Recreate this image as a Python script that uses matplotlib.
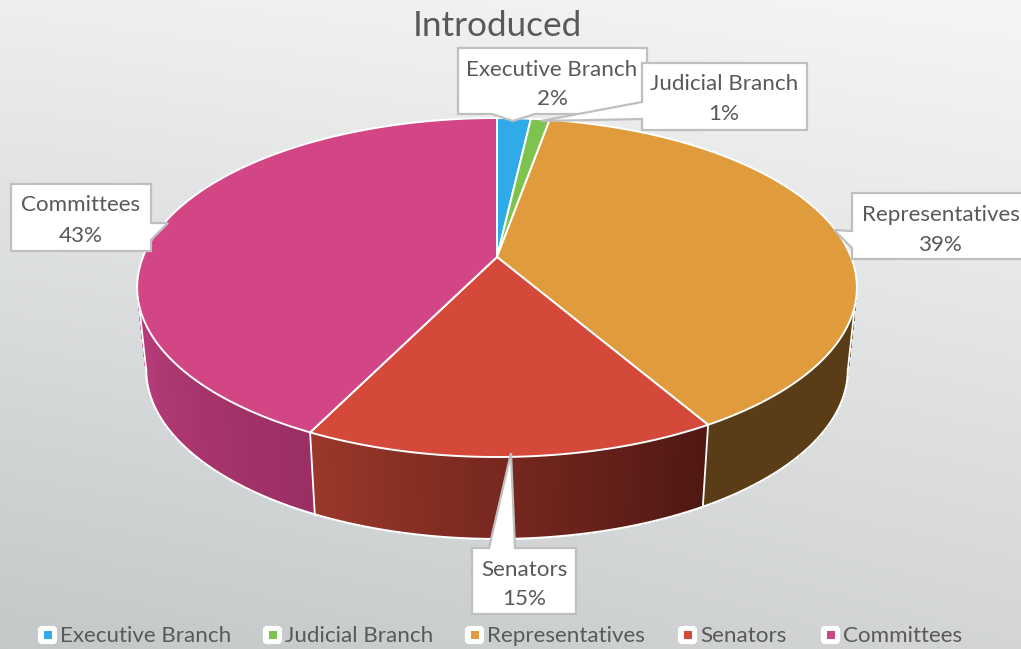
"""Perspective 3D pie, "Introduced". Drawn in pixel coordinates of the 1021x649 slide."""
import numpy as np
import matplotlib
matplotlib.use("Agg")
import matplotlib.pyplot as plt
from matplotlib.collections import PolyCollection
from matplotlib.colors import to_rgb
from matplotlib.patches import Polygon, Rectangle, FancyBboxPatch

plt.rcParams["font.family"] = ["Lato", "DejaVu Sans"]

categories = ["Executive Branch", "Judicial Branch", "Representatives", "Senators", "Committees"]
values = [1.8, 1.0, 38.8, 15.7, 42.7]
pct_labels = ["2%", "1%", "39%", "15%", "43%"]

TOP_COLORS = ["#2FABE9", "#7FC34F", "#E09B3D", "#D5493B", "#D24685"]
# wall colours: (left end, right end) of each slice as seen from the front
WALL_COLORS = {
    2: ("#5A3C17", "#5A3C17"),
    3: ("#4F1713", "#9A382A"),
    4: ("#9A2F62", "#BA3E7C"),
}
TEXT = "#595959"
EDGE = "#BFBFBF"
LABEL_SIZE = 16.1

# pie geometry in pixels
CX, CY = 497, 257
A, B, K = 354, 164, 0.18
DEPTH, WALL_SCALE = 82, 0.975
# the rim is widest on screen where v == K, the wall starts there
WALL_T0 = np.arccos(-K)
WALL_T1 = 2 * np.pi - WALL_T0


def top_xy(t):
    """Clockwise angle from 12 o'clock -> screen position on the top rim."""
    u, v = np.sin(t), -np.cos(t)
    w = 1 - K * v
    return CX + A * u / w, CY + B * v / w


def bottom_xy(t):
    x, y = top_xy(t)
    return CX + WALL_SCALE * (x - CX), y + DEPTH


fig = plt.figure(figsize=(10.21, 6.49), dpi=100)
ax = fig.add_axes([0, 0, 1, 1])
ax.set_xlim(0, 1021)
ax.set_ylim(649, 0)
ax.axis("off")

# slide background, light top right to darker bottom left
corners = np.array([[to_rgb("#EDEEEE"), to_rgb("#F5F5F5")],
                    [to_rgb("#C4C8C9"), to_rgb("#D3D5D6")]])
gy, gx = np.mgrid[0:1:160j, 0:1:256j]
bg = ((1 - gy)[..., None] * ((1 - gx)[..., None] * corners[0, 0] + gx[..., None] * corners[0, 1])
      + gy[..., None] * ((1 - gx)[..., None] * corners[1, 0] + gx[..., None] * corners[1, 1]))
ax.imshow(bg, extent=[0, 1021, 649, 0], aspect="auto", zorder=0, interpolation="bilinear")

fractions = np.array(values) / sum(values)
edges = np.concatenate([[0], np.cumsum(fractions)]) * 2 * np.pi

# side wall, strip by strip
for i, (c0, c1) in WALL_COLORS.items():
    t0 = max(edges[i], WALL_T0)
    t1 = min(edges[i + 1], WALL_T1)
    ts = np.linspace(t0, t1, 90)
    xt, yt = top_xy(ts)
    xb, yb = bottom_xy(ts)
    quads, cols = [], []
    for j in range(len(ts) - 1):
        quads.append([(xt[j], yt[j]), (xt[j + 1], yt[j + 1]), (xb[j + 1], yb[j + 1]), (xb[j], yb[j])])
        f = (j + 0.5) / (len(ts) - 1)
        cols.append(tuple((1 - f) * np.array(to_rgb(c0)) + f * np.array(to_rgb(c1))))
    ax.add_collection(PolyCollection(quads, facecolors=cols, edgecolors=cols, linewidths=0.3,
                                     antialiaseds=False, zorder=2))
    ax.plot(xb, yb, color="white", lw=1.5, zorder=3)

# seams and the outer wall edges
for t in [edges[3], edges[4], WALL_T0, WALL_T1]:
    xt, yt = top_xy(t)
    xb, yb = bottom_xy(t)
    ax.plot([xt, xb], [yt, yb], color="white", lw=1.3, zorder=3)

# top face
for i in range(len(values)):
    ts = np.linspace(edges[i], edges[i + 1], 200)
    xt, yt = top_xy(ts)
    pts = np.column_stack([np.r_[CX, xt], np.r_[CY, yt]])
    ax.add_patch(Polygon(pts, closed=True, facecolor=TOP_COLORS[i], edgecolor="white",
                         lw=1.4, joinstyle="round", zorder=4))

# title
ax.text(497, 26, "Introduced", ha="center", va="center", fontsize=25.3, color=TEXT, zorder=8)

# data callouts: box outline with the pointer built in
callouts = {
    0: ([(458, 48), (647, 48), (647, 114), (535, 114), (513, 121), (492, 114), (458, 114)], (552, 70), (552, 99)),
    1: ([(642, 63), (807, 63), (807, 130), (642, 130), (642, 119), (541, 121), (642, 102)], (724, 84), (724, 114)),
    2: ([(852, 193), (1030, 193), (1030, 259), (852, 259), (852, 248), (834, 230), (852, 231)], (941, 215), (941, 245)),
    3: ([(472, 548), (489, 548), (511, 453), (515, 548), (576, 548), (576, 614), (472, 614)], (524, 570), (524, 599)),
    4: ([(11, 184), (151, 184), (151, 223), (168, 223), (151, 240), (151, 251), (11, 251)], (81, 205), (81, 236)),
}
for i, (outline, name_xy, pct_xy) in callouts.items():
    ax.add_patch(Polygon(outline, closed=True, facecolor="white", edgecolor=EDGE, lw=1.6, zorder=5 + i * 0.01))
    ax.text(*name_xy, categories[i], ha="center", va="center", fontsize=LABEL_SIZE, color=TEXT, zorder=6)
    ax.text(*pct_xy, pct_labels[i], ha="center", va="center", fontsize=LABEL_SIZE, color=TEXT, zorder=6)

# legend
legend_x = [38, 263, 465, 678, 821]
for i, name in enumerate(categories):
    x0 = legend_x[i]
    ax.add_patch(FancyBboxPatch((x0 + 2, 628), 15, 14, boxstyle="round,pad=0,rounding_size=2",
                                mutation_aspect=1, facecolor="white", edgecolor="white", lw=3, zorder=6))
    ax.add_patch(Rectangle((x0 + 6, 631), 8, 8, facecolor=TOP_COLORS[i], edgecolor="none", zorder=7))
    ax.text(x0 + 22, 636, name, ha="left", va="center", fontsize=LABEL_SIZE, color=TEXT, zorder=6)

fig.savefig("out.png", dpi=100)
